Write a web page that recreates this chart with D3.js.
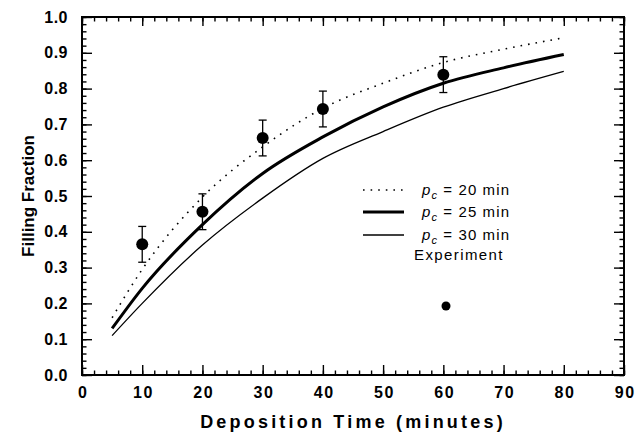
<!DOCTYPE html>
<html><head><meta charset="utf-8">
<script src="https://cdn.jsdelivr.net/npm/d3@7"></script>
<style>body{margin:0;background:#fff}svg{display:block}text{font-family:"Liberation Sans",Arial,sans-serif}</style>
</head><body><svg id="c" width="635" height="439"></svg>
<script>
const times = [5, 10, 20, 30, 40, 50, 60, 70, 80];
const pc20 = [0.16, 0.295, 0.497, 0.637, 0.745, 0.815, 0.873, 0.91, 0.942];
const pc25 = [0.13, 0.242, 0.42, 0.563, 0.665, 0.749, 0.815, 0.858, 0.895];
const pc30 = [0.11, 0.20, 0.363, 0.494, 0.605, 0.68, 0.748, 0.80, 0.848];
const expTime = [10, 20, 30, 40, 60];
const expValue = [0.365, 0.456, 0.662, 0.743, 0.839];
const expErr = [0.05, 0.05, 0.05, 0.05, 0.05];
const xTicks = [0, 10, 20, 30, 40, 50, 60, 70, 80, 90];
const yTicks = [0, 0.1, 0.2, 0.3, 0.4, 0.5, 0.6, 0.7, 0.8, 0.9, 1.0];
const legendLabels = ["20", "25", "30"];

const svg = d3.select("#c");
const L = 82, R = 624, T = 17, B = 375;
const x = d3.scaleLinear().domain([0, 90]).range([L, R]);
const y = d3.scaleLinear().domain([0, 1]).range([B, T]);

const xMinor = d3.range(0, 90.01, 2);
const yMinor = d3.range(0, 1.001, 0.02);

function axisGroup(axisFn, scale, ticks, size, tr) {
  const g = svg.append("g").attr("transform", tr)
    .call(axisFn(scale).tickValues(ticks).tickSizeInner(size).tickSizeOuter(0).tickFormat(""));
  g.select(".domain").remove();
  g.selectAll("line").attr("stroke", "#000").attr("stroke-width", 1.4);
  return g;
}
axisGroup(d3.axisBottom, x, xMinor, -4.5, `translate(0,${B})`);
axisGroup(d3.axisTop, x, xMinor, -4.5, `translate(0,${T})`);
axisGroup(d3.axisLeft, y, yMinor, -4.5, `translate(${L},0)`);
axisGroup(d3.axisRight, y, yMinor, -4.5, `translate(${R},0)`);
axisGroup(d3.axisBottom, x, xTicks, -10, `translate(0,${B})`);
axisGroup(d3.axisTop, x, xTicks, -9, `translate(0,${T})`);
axisGroup(d3.axisLeft, y, yTicks, -10, `translate(${L},0)`);
axisGroup(d3.axisRight, y, yTicks, -10, `translate(${R},0)`);

svg.append("rect").attr("x", L).attr("y", T).attr("width", R - L).attr("height", B - T)
  .attr("fill", "none").attr("stroke", "#000").attr("stroke-width", 2);

const xl = svg.append("g").attr("transform", `translate(0,${B})`)
  .call(d3.axisBottom(x).tickValues(xTicks).tickSize(0).tickPadding(12).tickFormat(d3.format("d")));
xl.select(".domain").remove();
xl.selectAll("text").attr("font-size", 16).attr("font-weight", "bold").attr("letter-spacing", 1.6)
  .attr("dx", 0.8).attr("fill", "#000").style("font-family", '"Liberation Sans",Arial,sans-serif');
const yl = svg.append("g").attr("transform", `translate(${L},0)`)
  .call(d3.axisLeft(y).tickValues(yTicks).tickSize(0).tickPadding(14).tickFormat(d3.format(".1f")));
yl.select(".domain").remove();
yl.selectAll("text").attr("font-size", 16).attr("font-weight", "bold").attr("letter-spacing", 0.5)
  .attr("fill", "#000").style("font-family", '"Liberation Sans",Arial,sans-serif');

svg.append("text").attr("x", (L + R) / 2).attr("y", 428).attr("text-anchor", "middle")
  .attr("font-size", 18).attr("font-weight", "bold").attr("letter-spacing", 3.2).text("Deposition Time (minutes)");
svg.append("text").attr("transform", `translate(34,${(T + B) / 2}) rotate(-90)`).attr("text-anchor", "middle")
  .attr("font-size", 17).attr("font-weight", "bold").text("Filling Fraction");

const line = d3.line().x((d, i) => x(times[i])).y(d => y(d)).curve(d3.curveMonotoneX);
const styles = [
  {data: pc20, w: 1.6, dash: "1.6,6"},
  {data: pc25, w: 3, dash: null},
  {data: pc30, w: 1.3, dash: null}
];
styles.forEach(s => {
  svg.append("path").datum(s.data).attr("d", line).attr("fill", "none").attr("stroke", "#000")
    .attr("stroke-width", s.w).attr("stroke-dasharray", s.dash);
});

const eb = svg.append("g").attr("stroke", "#000").attr("stroke-width", 1.3);
expTime.forEach((t, i) => {
  const cx = x(t), y1 = y(expValue[i] - expErr[i]), y2 = y(expValue[i] + expErr[i]);
  eb.append("line").attr("x1", cx).attr("x2", cx).attr("y1", y1).attr("y2", y2);
  eb.append("line").attr("x1", cx - 4).attr("x2", cx + 4).attr("y1", y1).attr("y2", y1);
  eb.append("line").attr("x1", cx - 4).attr("x2", cx + 4).attr("y1", y2).attr("y2", y2);
});
svg.append("g").selectAll("circle").data(expTime).join("circle")
  .attr("cx", d => x(d)).attr("cy", (d, i) => y(expValue[i])).attr("r", 6).attr("fill", "#000");

const legY = [190, 212, 235];
styles.forEach((s, i) => {
  svg.append("line").attr("x1", 363).attr("x2", 404).attr("y1", legY[i]).attr("y2", legY[i])
    .attr("stroke", "#000").attr("stroke-width", s.w).attr("stroke-dasharray", s.dash);
  const t = svg.append("text").attr("x", 422).attr("y", legY[i] + 5).attr("font-size", 15).attr("letter-spacing", 1.1);
  t.append("tspan").attr("font-style", "italic").text("p");
  t.append("tspan").attr("font-style", "italic").attr("font-size", 11).attr("dy", 4).text("c");
  t.append("tspan").attr("dy", -4).text(" = " + legendLabels[i] + " min");
});
svg.append("text").attr("x", 459).attr("y", 260).attr("text-anchor", "middle").attr("font-size", 15)
  .attr("letter-spacing", 1.4).text("Experiment");
svg.append("circle").attr("cx", 446).attr("cy", 306).attr("r", 4.5).attr("fill", "#000");
</script></body></html>
